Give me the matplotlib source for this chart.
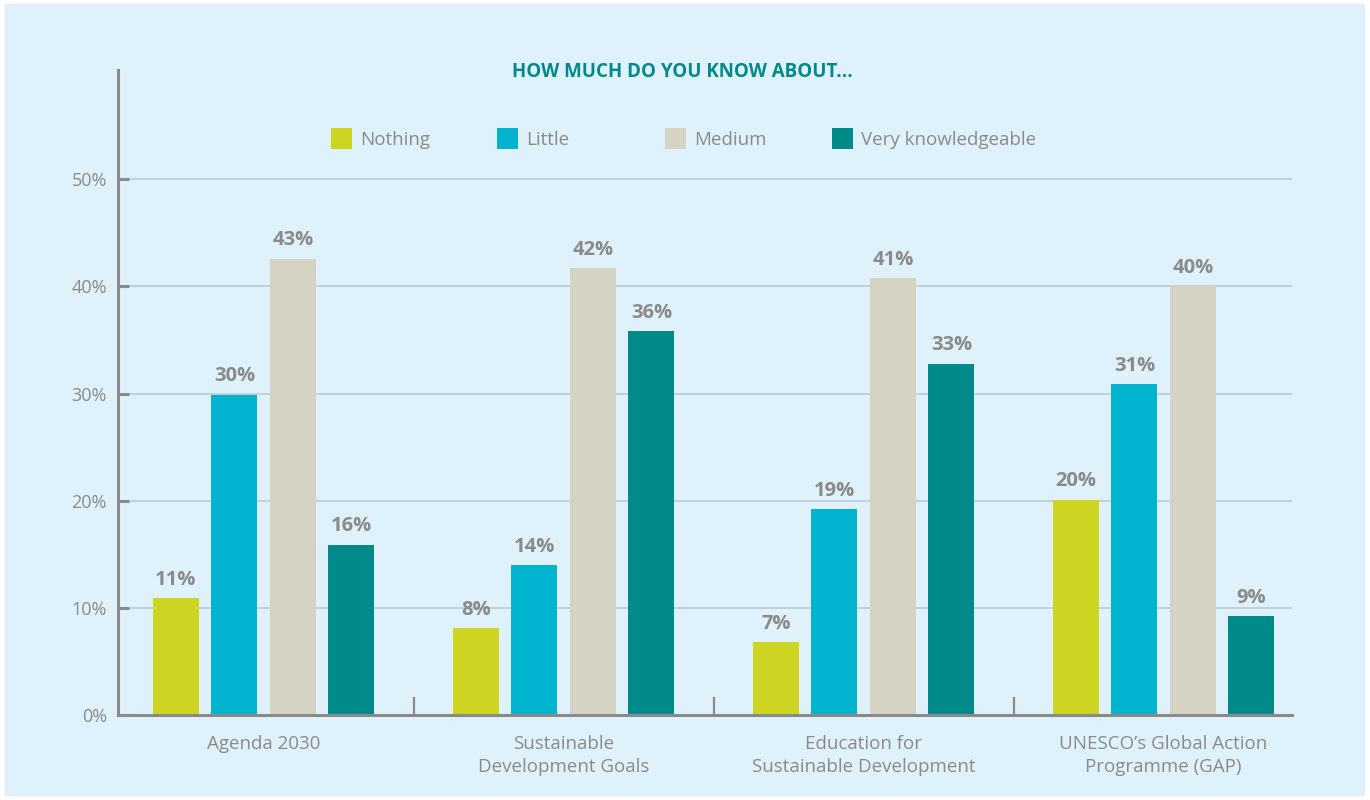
import matplotlib
matplotlib.use("Agg")
import matplotlib.pyplot as plt
from matplotlib.patches import Rectangle
import numpy as np

plt.rcParams['font.family'] = ['Open Sans', 'DejaVu Sans']

categories = ["Agenda 2030", "Sustainable\nDevelopment Goals",
              "Education for\nSustainable Development",
              "UNESCO\u2019s Global Action\nProgramme (GAP)"]
series_names = ["Nothing", "Little", "Medium", "Very knowledgeable"]
nothing = [10.9, 8.1, 6.8, 20.1]
little = [29.9, 14.0, 19.2, 30.9]
medium = [42.6, 41.7, 40.8, 40.0]
very = [15.9, 35.8, 32.8, 9.2]
labels_nothing = ["11%", "8%", "7%", "20%"]
labels_little = ["30%", "14%", "19%", "31%"]
labels_medium = ["43%", "42%", "41%", "40%"]
labels_very = ["16%", "36%", "33%", "9%"]
yticks = [0, 10, 20, 30, 40, 50]
ytick_labels = ["0%", "10%", "20%", "30%", "40%", "50%"]

colors = ["#cdd422", "#00b4d0", "#d5d3c4", "#008a8a"]
bg = "#dff2fb"
gray = "#8a8a8a"
teal = "#00898a"

W, H = 1370, 800
fig = plt.figure(figsize=(W / 100, H / 100), dpi=100, facecolor="white")
fig.patches.append(Rectangle((5 / W, 4 / H), 1 - 10 / W, 1 - 8 / H,
                             transform=fig.transFigure, facecolor=bg,
                             edgecolor="none", zorder=-10))

ax = fig.add_axes([118 / W, 1 - 715 / H, (1292 - 118) / W, (715 - 70) / H])
ax.set_facecolor("none")

x = np.arange(len(categories))
step = 0.195
width = 0.153
all_vals = [nothing, little, medium, very]
all_labels = [labels_nothing, labels_little, labels_medium, labels_very]
for j, (vals, labs) in enumerate(zip(all_vals, all_labels)):
    pos = x + (j - 1.5) * step
    bars = ax.bar(pos, vals, width=width, color=colors[j], zorder=3)
    for b, lab in zip(bars, labs):
        ax.annotate(lab, (b.get_x() + b.get_width() / 2, b.get_height()),
                    xytext=(0, 6), textcoords="offset points",
                    ha="center", va="bottom", fontsize=14.5, fontweight="bold",
                    color=gray, zorder=4)

ax.set_xlim(-0.485, 3.428)
ax.set_ylim(0, 60.2)

for sp in ["top", "right"]:
    ax.spines[sp].set_visible(False)
for sp in ["left", "bottom"]:
    ax.spines[sp].set_color(gray)
    ax.spines[sp].set_linewidth(2.2)
    ax.spines[sp].set_zorder(5)

ax.set_yticks(yticks)
ax.set_yticklabels(ytick_labels)
ax.yaxis.grid(True, color="#b9c7cf", linewidth=1.1, zorder=0)
ax.tick_params(axis="y", direction="in", length=8, width=2.2, color=gray,
               labelcolor=gray, labelsize=13, pad=8)

ax.set_xticks(x)
ax.set_xticklabels(categories, linespacing=1.35)
ax.tick_params(axis="x", which="major", length=0, labelcolor=gray,
               labelsize=13.5, pad=14.5)
ax.set_xticks([0.5, 1.5, 2.5], minor=True)
ax.tick_params(axis="x", which="minor", direction="in", length=13, width=1.6,
               color=gray)

fig.text(682 / W, 1 - 72 / H, "HOW MUCH DO YOU KNOW ABOUT...", ha="center",
         va="center", fontsize=13.5, fontweight="bold", color=teal)

leg_x = [331, 497, 665, 832]
for xs, name, c in zip(leg_x, series_names, colors):
    fig.patches.append(Rectangle((xs / W, 1 - 149 / H), 21 / W, 21 / H,
                                 transform=fig.transFigure, facecolor=c,
                                 edgecolor="none"))
    fig.text((xs + 29) / W, 1 - 140 / H, name, ha="left", va="center",
             fontsize=13.5, color=gray)

fig.savefig("out.png", dpi=100, facecolor=fig.get_facecolor())
